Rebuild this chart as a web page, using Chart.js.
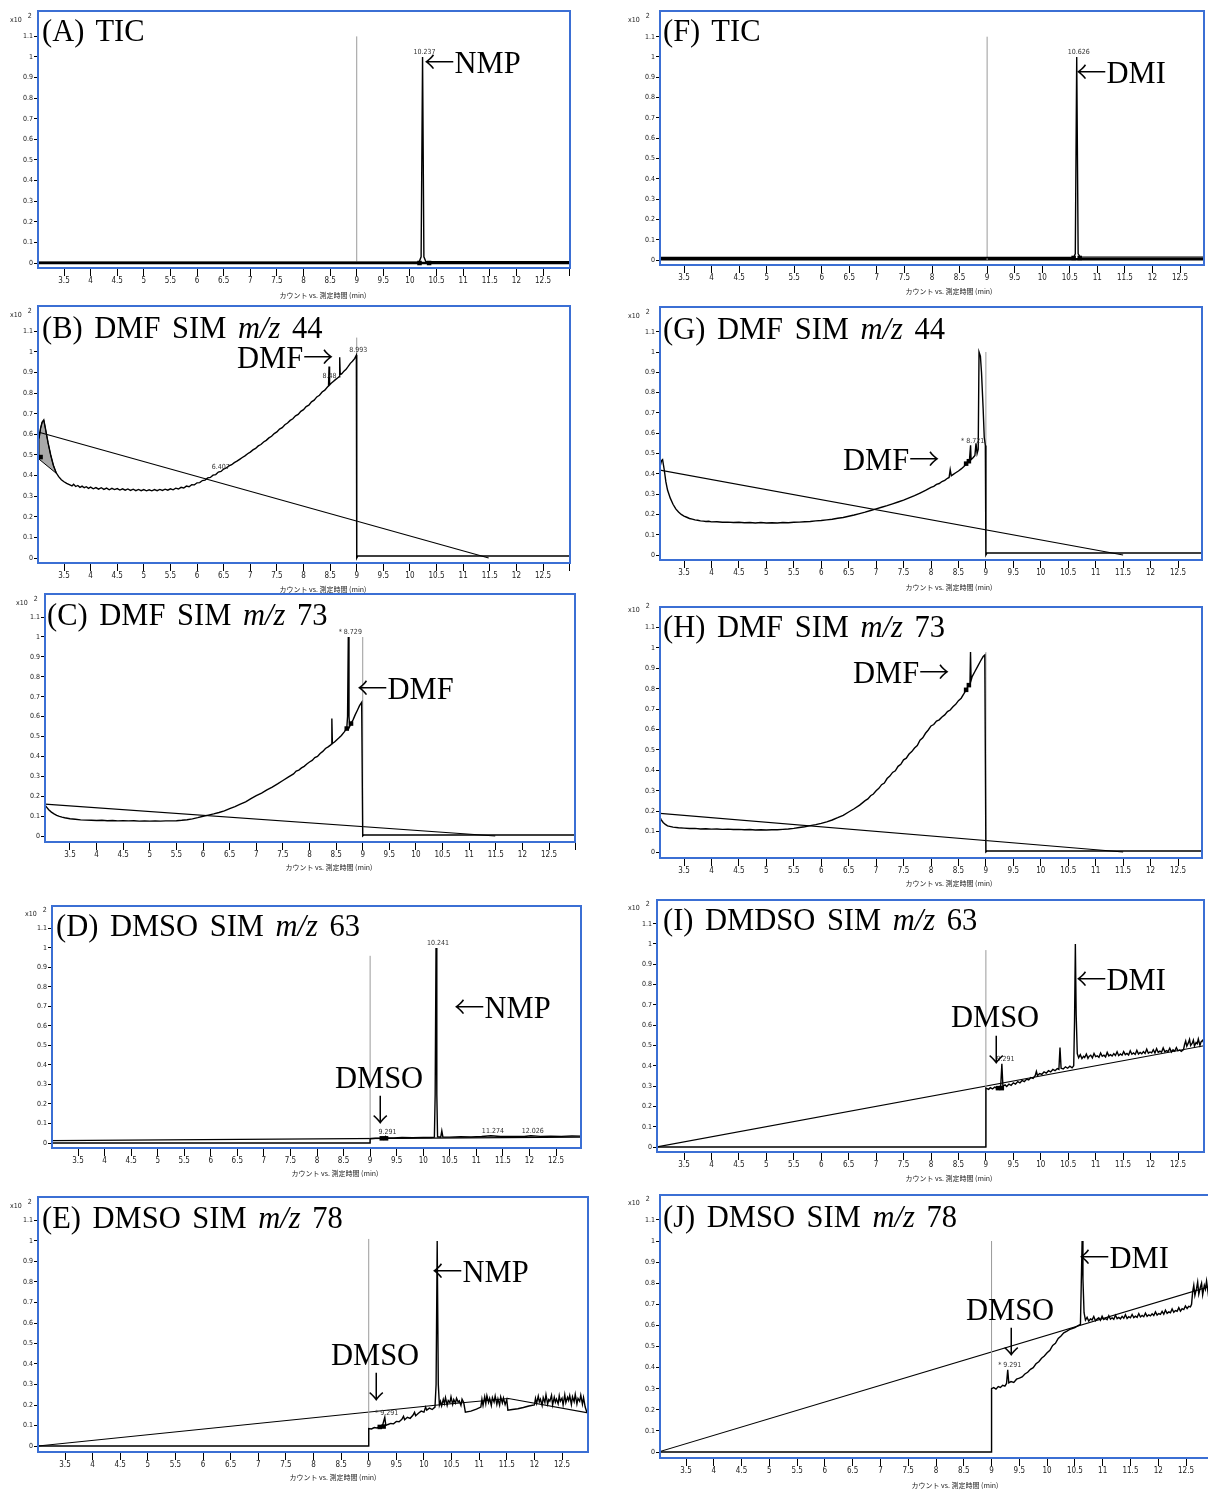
<!DOCTYPE html>
<html>
<head>
<meta charset="utf-8">
<script src="https://cdn.jsdelivr.net/npm/chart.js@4.4.1/dist/chart.umd.min.js"></script>
<style>
  html, body { margin: 0; padding: 0; background: #fff; }
  body { width: 1208px; height: 1490px; position: relative; overflow: hidden; }
  canvas { position: absolute; }
  .big { position: absolute; white-space: nowrap; font-family: 'Liberation Serif', 'DejaVu Serif', serif; font-size: 30.5px; word-spacing: 4px; line-height: 1; color: #000; }
  .ar { font-family: 'Noto Sans CJK JP', sans-serif; font-weight: 300; }
  .axt { position: absolute; white-space: nowrap; font-family: 'Noto Sans CJK JP', sans-serif; font-size: 7px; line-height: 1; color: #222; transform: translateX(-50%); }
  .mult { position: absolute; white-space: nowrap; font-family: 'Liberation Sans Narrow', 'DejaVu Sans Condensed', sans-serif; font-size: 7px; line-height: 1; color: #222; }
</style>
</head>
<body>
<script>
// ---- retention-time axis ticks (min) and intensity ticks (x10^2 counts) ----
const X_TICKS = [3.5, 4, 4.5, 5, 5.5, 6, 6.5, 7, 7.5, 8, 8.5, 9, 9.5, 10, 10.5, 11, 11.5, 12, 12.5, 13];
const Y_TICKS = [0, 0.1, 0.2, 0.3, 0.4, 0.5, 0.6, 0.7, 0.8, 0.9, 1.0, 1.1];

// ---- (A) TIC, NMP sample ----
const aTrace = [[3.0,0.004],[10.17,0.004],[10.21,0.03],[10.237,1.0],[10.262,0.03],[10.3,0.006],[13.0,0.006]];
const aBase = [[3.0,0.0],[13.0,0.0]];
const aMarks = [[10.18,0.0],[10.36,0.0]];
const aGate = [[9.0,0],[9.0,1.1]];
const aTags = [['10.237',10.237,1.0]];

// ---- (B) DMF SIM m/z 44, NMP sample ----
const bTrace = [[3.03,0.58],[3.06,0.63],[3.09,0.66],[3.12,0.67],[3.15,0.63],[3.2,0.56],[3.25,0.5],[3.3,0.45],[3.35,0.415],[3.4,0.395],[3.45,0.38],[3.5,0.37],[3.55,0.362],[3.6,0.356],[3.65,0.35],[3.68,0.358],[3.72,0.347],[3.76,0.352],[3.8,0.343],[3.84,0.349],[3.88,0.341],[3.92,0.346],[3.96,0.338],[4.0,0.344],[4.05,0.336],[4.1,0.342],[4.15,0.334],[4.2,0.341],[4.25,0.333],[4.3,0.339],[4.35,0.331],[4.4,0.338],[4.45,0.332],[4.5,0.337],[4.55,0.33],[4.6,0.336],[4.65,0.329],[4.7,0.335],[4.75,0.328],[4.8,0.334],[4.85,0.327],[4.9,0.333],[4.95,0.327],[5.0,0.332],[5.05,0.326],[5.1,0.331],[5.15,0.326],[5.2,0.332],[5.25,0.327],[5.3,0.333],[5.35,0.328],[5.4,0.334],[5.45,0.329],[5.5,0.336],[5.55,0.331],[5.6,0.339],[5.65,0.335],[5.7,0.343],[5.75,0.34],[5.8,0.349],[5.85,0.346],[5.9,0.356],[5.95,0.355],[6.0,0.365],[6.05,0.366],[6.1,0.376],[6.15,0.378],[6.2,0.389],[6.25,0.391],[6.3,0.402],[6.35,0.405],[6.4,0.417],[6.45,0.42],[6.5,0.432],[6.55,0.437],[6.6,0.447],[6.65,0.453],[6.7,0.463],[6.75,0.47],[6.8,0.479],[6.85,0.488],[6.9,0.496],[6.95,0.506],[7.0,0.514],[7.05,0.525],[7.1,0.532],[7.15,0.544],[7.2,0.551],[7.25,0.563],[7.3,0.571],[7.35,0.583],[7.4,0.591],[7.45,0.604],[7.5,0.612],[7.55,0.626],[7.6,0.633],[7.65,0.647],[7.7,0.655],[7.75,0.668],[7.8,0.676],[7.85,0.69],[7.9,0.697],[7.95,0.712],[8.0,0.72],[8.05,0.735],[8.1,0.742],[8.15,0.758],[8.2,0.766],[8.25,0.782],[8.3,0.79],[8.35,0.806],[8.4,0.815],[8.45,0.83],[8.47,0.835],[8.48,0.93],[8.49,0.84],[8.52,0.848],[8.56,0.857],[8.6,0.866],[8.64,0.874],[8.67,0.88],[8.68,0.975],[8.69,0.89],[8.72,0.895],[8.76,0.907],[8.8,0.916],[8.84,0.93],[8.88,0.945],[8.92,0.955],[8.96,0.968],[8.993,0.985],[9.0,0.0],[9.02,0.01],[13.0,0.01]];
const bBase = [[3.03,0.61],[11.48,0.0]];
const bArea = [[3.03,0.48],[3.03,0.58],[3.06,0.63],[3.09,0.66],[3.12,0.67],[3.15,0.63],[3.2,0.56],[3.25,0.5],[3.3,0.45],[3.36,0.41],[3.03,0.48]];
const bMarks = [[3.06,0.49]];
const bGate = [[9.0,0],[9.0,1.07]];
const bTags = [['8.993',8.993,0.985],['8.48',8.45,0.86],['6.407',6.407,0.42]];

// ---- (C) DMF SIM m/z 73, NMP sample ----
const cTrace = [[3.03,0.155],[3.06,0.145],[3.1,0.132],[3.15,0.12],[3.2,0.111],[3.25,0.104],[3.3,0.099],[3.35,0.095],[3.4,0.092],[3.5,0.087],[3.6,0.084],[3.7,0.081],[3.8,0.08],[3.9,0.079],[4.0,0.078],[4.1,0.079],[4.2,0.077],[4.3,0.078],[4.4,0.076],[4.5,0.077],[4.6,0.076],[4.7,0.077],[4.8,0.075],[4.9,0.076],[5.0,0.075],[5.1,0.076],[5.2,0.075],[5.3,0.076],[5.4,0.076],[5.5,0.077],[5.6,0.079],[5.7,0.082],[5.8,0.086],[5.9,0.092],[6.0,0.099],[6.1,0.105],[6.2,0.111],[6.3,0.118],[6.4,0.126],[6.5,0.138],[6.6,0.148],[6.7,0.16],[6.8,0.172],[6.9,0.188],[7.0,0.203],[7.1,0.216],[7.2,0.232],[7.3,0.246],[7.4,0.262],[7.5,0.279],[7.6,0.296],[7.7,0.312],[7.75,0.326],[7.8,0.331],[7.85,0.342],[7.9,0.35],[7.95,0.362],[8.0,0.372],[8.05,0.38],[8.1,0.394],[8.15,0.4],[8.2,0.415],[8.25,0.425],[8.3,0.44],[8.35,0.448],[8.4,0.458],[8.415,0.462],[8.42,0.59],[8.43,0.465],[8.47,0.472],[8.5,0.48],[8.55,0.492],[8.6,0.505],[8.65,0.522],[8.7,0.54],[8.715,0.6],[8.729,1.0],[8.742,0.6],[8.755,0.55],[8.78,0.565],[8.82,0.585],[8.86,0.61],[8.9,0.632],[8.94,0.655],[8.98,0.672],[9.0,0.0],[9.02,0.005],[13.0,0.005]];
const cBase = [[3.03,0.16],[11.49,0.0]];
const cMarks = [[8.7,0.54],[8.78,0.565]];
const cGate = [[9.0,0],[9.0,1.0]];
const cTags = [['* 8.729',8.729,1.0]];

// ---- (D) DMSO SIM m/z 63, NMP sample ----
const dTrace = [[3.0,0.0],[9.0,0.0],[9.0,0.022],[9.1,0.024],[9.2,0.025],[9.27,0.027],[9.291,0.034],[9.31,0.027],[9.45,0.026],[9.6,0.028],[9.8,0.027],[10.0,0.029],[10.15,0.028],[10.21,0.03],[10.225,0.25],[10.241,1.0],[10.256,0.25],[10.27,0.032],[10.33,0.03],[10.35,0.062],[10.37,0.031],[10.5,0.03],[10.7,0.032],[10.9,0.031],[11.1,0.033],[11.274,0.037],[11.45,0.033],[11.7,0.034],[11.9,0.033],[12.026,0.037],[12.2,0.034],[12.4,0.035],[12.6,0.034],[12.8,0.036],[13.0,0.035]];
const dBase = [[3.0,0.012],[13.0,0.03]];
const dMarks = [[9.22,0.024],[9.3,0.024]];
const dGate = [[9.0,0],[9.0,0.96]];
const dTags = [['10.241',10.241,1.0],['9.291',9.291,0.034],['11.274',11.274,0.037],['12.026',12.026,0.037]];

// ---- (E) DMSO SIM m/z 78, NMP sample ----
const eTrace = [[3.0,0.0],[9.0,0.0],[9.0,0.085],[9.05,0.083],[9.1,0.09],[9.15,0.088],[9.2,0.095],[9.25,0.1],[9.291,0.14],[9.31,0.1],[9.35,0.105],[9.4,0.11],[9.45,0.108],[9.5,0.12],[9.55,0.118],[9.6,0.13],[9.63,0.145],[9.65,0.128],[9.7,0.14],[9.75,0.135],[9.8,0.15],[9.83,0.165],[9.85,0.148],[9.9,0.16],[9.95,0.17],[10.0,0.165],[10.03,0.19],[10.05,0.175],[10.1,0.185],[10.15,0.178],[10.2,0.19],[10.22,0.3],[10.24,1.0],[10.26,0.3],[10.28,0.2],[10.3,0.218],[10.32,0.196],[10.35,0.228],[10.37,0.207],[10.39,0.236],[10.42,0.199],[10.44,0.222],[10.47,0.212],[10.49,0.24],[10.52,0.203],[10.54,0.226],[10.57,0.209],[10.59,0.233],[10.62,0.214],[10.64,0.22],[10.67,0.198],[10.69,0.228],[10.72,0.212],[10.75,0.165],[10.85,0.17],[10.95,0.18],[11.03,0.19],[11.05,0.228],[11.07,0.198],[11.1,0.24],[11.12,0.207],[11.14,0.245],[11.17,0.212],[11.19,0.232],[11.22,0.198],[11.24,0.236],[11.27,0.214],[11.29,0.244],[11.32,0.203],[11.34,0.23],[11.37,0.199],[11.39,0.239],[11.42,0.21],[11.44,0.234],[11.47,0.202],[11.5,0.226],[11.52,0.175],[11.6,0.178],[11.7,0.182],[11.8,0.188],[11.9,0.195],[12.0,0.2],[12.02,0.232],[12.04,0.208],[12.07,0.243],[12.09,0.215],[12.11,0.228],[12.14,0.198],[12.16,0.236],[12.19,0.212],[12.21,0.25],[12.24,0.204],[12.26,0.226],[12.28,0.219],[12.31,0.247],[12.33,0.2],[12.36,0.238],[12.38,0.214],[12.4,0.229],[12.43,0.206],[12.45,0.245],[12.47,0.218],[12.5,0.233],[12.52,0.2],[12.55,0.25],[12.57,0.212],[12.6,0.238],[12.62,0.222],[12.64,0.246],[12.67,0.203],[12.69,0.24],[12.72,0.216],[12.74,0.252],[12.77,0.205],[12.79,0.232],[12.82,0.218],[12.84,0.248],[12.87,0.204],[12.89,0.236],[12.92,0.19],[12.95,0.165],[13.0,0.16]];
const eBase = [[3.0,0.0],[10.25,0.2],[11.53,0.232],[13.0,0.16]];
const eMarks = [[9.2,0.093],[9.27,0.095]];
const eGate = [[9.0,0],[9.0,1.01]];
const eTags = [['* 9.291',9.291,0.14]];

// ---- (F) TIC, DMI sample ----
const fTrace = [[3.0,0.012],[10.57,0.012],[10.6,0.03],[10.626,1.0],[10.652,0.03],[10.69,0.014],[13.0,0.014]];
const fBase = [[3.0,0.004],[13.0,0.004]];
const fMarks = [[10.57,0.01],[10.68,0.01]];
const fGate = [[9.0,0],[9.0,1.1]];
const fTags = [['10.626',10.626,1.0]];

// ---- (G) DMF SIM m/z 44, DMI sample ----
const gTrace = [[3.03,0.37],[3.06,0.43],[3.09,0.465],[3.11,0.47],[3.14,0.42],[3.17,0.36],[3.2,0.32],[3.25,0.28],[3.3,0.25],[3.35,0.227],[3.4,0.212],[3.45,0.2],[3.5,0.192],[3.55,0.186],[3.6,0.18],[3.65,0.177],[3.7,0.173],[3.75,0.171],[3.8,0.168],[3.85,0.167],[3.9,0.165],[3.95,0.166],[4.0,0.163],[4.1,0.164],[4.2,0.161],[4.3,0.162],[4.4,0.16],[4.5,0.161],[4.6,0.159],[4.7,0.16],[4.8,0.158],[4.9,0.16],[5.0,0.158],[5.1,0.159],[5.2,0.158],[5.3,0.16],[5.4,0.159],[5.5,0.161],[5.6,0.162],[5.7,0.164],[5.8,0.165],[5.9,0.168],[6.0,0.17],[6.1,0.173],[6.2,0.176],[6.3,0.181],[6.4,0.185],[6.5,0.191],[6.6,0.197],[6.7,0.204],[6.8,0.211],[6.9,0.219],[7.0,0.227],[7.1,0.235],[7.2,0.243],[7.3,0.252],[7.4,0.261],[7.5,0.27],[7.6,0.281],[7.7,0.292],[7.8,0.305],[7.9,0.318],[8.0,0.333],[8.05,0.338],[8.1,0.348],[8.15,0.352],[8.2,0.362],[8.25,0.368],[8.3,0.378],[8.33,0.382],[8.35,0.42],[8.37,0.39],[8.4,0.396],[8.45,0.405],[8.5,0.414],[8.55,0.424],[8.6,0.436],[8.65,0.452],[8.7,0.465],[8.721,0.54],[8.73,0.47],[8.77,0.48],[8.8,0.49],[8.82,0.55],[8.84,0.5],[8.86,0.52],[8.875,1.0],[8.9,0.98],[8.92,0.9],[8.95,0.72],[8.97,0.58],[8.99,0.54],[9.0,0.0],[9.02,0.01],[13.0,0.01]];
const gBase = [[3.03,0.42],[11.5,0.0]];
const gMarks = [[8.64,0.45],[8.69,0.462]];
const gGate = [[9.0,0],[9.0,1.0]];
const gTags = [['* 8.721',8.721,0.54]];

// ---- (H) DMF SIM m/z 73, DMI sample ----
const hTrace = [[3.03,0.2],[3.05,0.18],[3.08,0.16],[3.12,0.145],[3.16,0.135],[3.2,0.128],[3.3,0.122],[3.4,0.119],[3.5,0.117],[3.6,0.115],[3.7,0.116],[3.8,0.113],[3.9,0.114],[4.0,0.112],[4.1,0.113],[4.2,0.111],[4.3,0.112],[4.4,0.11],[4.5,0.111],[4.6,0.109],[4.7,0.11],[4.8,0.108],[4.9,0.109],[5.0,0.108],[5.1,0.109],[5.2,0.109],[5.3,0.111],[5.4,0.113],[5.5,0.116],[5.6,0.12],[5.7,0.124],[5.8,0.129],[5.9,0.134],[6.0,0.14],[6.1,0.148],[6.2,0.157],[6.3,0.168],[6.4,0.18],[6.5,0.196],[6.6,0.212],[6.7,0.23],[6.8,0.252],[6.85,0.26],[6.9,0.276],[6.95,0.284],[7.0,0.3],[7.05,0.312],[7.1,0.33],[7.15,0.338],[7.2,0.36],[7.25,0.372],[7.3,0.39],[7.35,0.398],[7.4,0.42],[7.45,0.43],[7.5,0.452],[7.55,0.46],[7.6,0.48],[7.65,0.492],[7.7,0.51],[7.75,0.522],[7.8,0.548],[7.85,0.56],[7.9,0.582],[7.95,0.598],[8.0,0.618],[8.05,0.625],[8.1,0.642],[8.15,0.648],[8.2,0.662],[8.25,0.672],[8.3,0.688],[8.35,0.696],[8.4,0.712],[8.45,0.724],[8.5,0.742],[8.55,0.754],[8.6,0.776],[8.63,0.79],[8.66,0.805],[8.69,0.818],[8.71,0.825],[8.72,0.98],[8.73,0.84],[8.75,0.86],[8.8,0.885],[8.85,0.91],[8.9,0.935],[8.95,0.958],[8.98,0.965],[9.0,0.0],[9.02,0.005],[13.0,0.005]];
const hBase = [[3.03,0.19],[11.5,0.0]];
const hMarks = [[8.64,0.795],[8.69,0.818]];
const hGate = [[9.0,0],[9.0,0.98]];
const hTags = [];

// ---- (I) DMSO SIM m/z 63, DMI sample ----
const iTrace = [[3.0,0.0],[9.0,0.0],[9.0,0.29],[9.05,0.284],[9.08,0.292],[9.12,0.286],[9.16,0.295],[9.2,0.29],[9.24,0.297],[9.27,0.3],[9.291,0.41],[9.31,0.3],[9.35,0.306],[9.38,0.298],[9.42,0.31],[9.46,0.304],[9.5,0.316],[9.54,0.31],[9.58,0.322],[9.62,0.316],[9.66,0.328],[9.7,0.322],[9.74,0.334],[9.78,0.33],[9.82,0.342],[9.86,0.338],[9.9,0.352],[9.92,0.372],[9.94,0.352],[9.98,0.362],[10.02,0.358],[10.06,0.37],[10.1,0.364],[10.14,0.376],[10.18,0.37],[10.22,0.382],[10.26,0.376],[10.3,0.386],[10.33,0.382],[10.35,0.49],[10.37,0.388],[10.41,0.384],[10.45,0.395],[10.49,0.388],[10.53,0.398],[10.57,0.39],[10.6,0.4],[10.615,0.62],[10.63,1.0],[10.645,0.65],[10.665,0.46],[10.69,0.44],[10.72,0.455],[10.75,0.436],[10.78,0.447],[10.8,0.441],[10.83,0.458],[10.86,0.437],[10.88,0.446],[10.91,0.452],[10.94,0.439],[10.97,0.461],[11.0,0.445],[11.03,0.449],[11.06,0.442],[11.09,0.463],[11.12,0.447],[11.15,0.452],[11.18,0.444],[11.21,0.466],[11.24,0.449],[11.27,0.455],[11.3,0.448],[11.33,0.46],[11.36,0.451],[11.39,0.469],[11.42,0.45],[11.45,0.458],[11.48,0.452],[11.51,0.47],[11.54,0.455],[11.57,0.461],[11.6,0.453],[11.63,0.474],[11.66,0.457],[11.69,0.463],[11.72,0.456],[11.75,0.476],[11.78,0.458],[11.81,0.466],[11.84,0.459],[11.87,0.47],[11.9,0.461],[11.93,0.482],[11.96,0.462],[11.99,0.468],[12.02,0.464],[12.05,0.479],[12.08,0.463],[12.11,0.485],[12.14,0.466],[12.17,0.472],[12.2,0.467],[12.23,0.488],[12.26,0.469],[12.29,0.475],[12.32,0.47],[12.35,0.487],[12.38,0.468],[12.41,0.479],[12.44,0.472],[12.47,0.49],[12.5,0.474],[12.53,0.478],[12.56,0.471],[12.6,0.48],[12.62,0.505],[12.64,0.522],[12.66,0.497],[12.69,0.514],[12.71,0.53],[12.73,0.5],[12.76,0.511],[12.78,0.526],[12.8,0.498],[12.83,0.515],[12.85,0.509],[12.87,0.532],[12.9,0.5],[12.92,0.518],[12.95,0.526],[12.98,0.505]];
const iBase = [[3.0,0.0],[13.0,0.5]];
const iMarks = [[9.22,0.29],[9.29,0.29]];
const iGate = [[9.0,0],[9.0,0.97]];
const iTags = [['9.291',9.32,0.41]];

// ---- (J) DMSO SIM m/z 78, DMI sample ----
const jTrace = [[3.0,0.0],[9.0,0.0],[9.0,0.3],[9.04,0.305],[9.08,0.298],[9.12,0.31],[9.16,0.306],[9.2,0.316],[9.24,0.312],[9.27,0.325],[9.291,0.39],[9.31,0.328],[9.35,0.334],[9.4,0.33],[9.45,0.345],[9.5,0.35],[9.55,0.356],[9.6,0.37],[9.65,0.378],[9.7,0.392],[9.75,0.4],[9.8,0.418],[9.85,0.428],[9.9,0.444],[9.95,0.455],[10.0,0.47],[10.05,0.482],[10.1,0.505],[10.15,0.515],[10.2,0.538],[10.25,0.55],[10.3,0.565],[10.35,0.572],[10.4,0.58],[10.45,0.585],[10.5,0.59],[10.55,0.598],[10.6,0.605],[10.615,0.8],[10.63,1.0],[10.645,0.82],[10.665,0.66],[10.69,0.625],[10.72,0.638],[10.75,0.62],[10.78,0.631],[10.81,0.626],[10.84,0.642],[10.87,0.622],[10.9,0.63],[10.93,0.636],[10.96,0.624],[10.99,0.644],[11.02,0.628],[11.05,0.633],[11.08,0.627],[11.11,0.646],[11.14,0.63],[11.17,0.636],[11.2,0.629],[11.23,0.648],[11.26,0.632],[11.29,0.638],[11.32,0.631],[11.35,0.643],[11.38,0.634],[11.41,0.651],[11.44,0.633],[11.47,0.641],[11.5,0.636],[11.53,0.652],[11.56,0.637],[11.59,0.644],[11.62,0.638],[11.65,0.656],[11.68,0.64],[11.71,0.647],[11.74,0.641],[11.77,0.658],[11.8,0.643],[11.83,0.65],[11.86,0.645],[11.89,0.655],[11.92,0.647],[11.95,0.664],[11.98,0.649],[12.01,0.656],[12.04,0.652],[12.07,0.666],[12.1,0.653],[12.13,0.672],[12.16,0.657],[12.19,0.664],[12.22,0.66],[12.25,0.678],[12.28,0.662],[12.31,0.67],[12.34,0.667],[12.37,0.684],[12.4,0.668],[12.43,0.679],[12.46,0.675],[12.49,0.692],[12.52,0.68],[12.55,0.69],[12.58,0.688],[12.6,0.7],[12.62,0.76],[12.64,0.79],[12.66,0.742],[12.69,0.775],[12.71,0.805],[12.73,0.748],[12.76,0.782],[12.78,0.8],[12.8,0.745],[12.83,0.79],[12.85,0.772],[12.87,0.81],[12.9,0.75],[12.92,0.785],[12.95,0.8],[12.98,0.77]];
const jBase = [[3.0,0.0],[13.0,0.79]];
const jMarks = [];
const jGate = [[9.0,0],[9.0,1.0]];
const jTags = [['* 9.291',9.291,0.39]];

// ---- page layout: plot frame [left, top, right, bottom], zero line pixel, pixels per unit,
//      and the pixel columns of the 3.5 and 12.5 min ticks ----
const panels = [
  { box: [38, 11, 570, 268],     y0: 263,  ppu: 206, tx: [64, 543],   trace: aTrace, base: aBase, area: null, marks: aMarks, gate: aGate, tags: aTags, baseWidth: 2.5 },
  { box: [38, 306, 570, 563],    y0: 558,  ppu: 206, tx: [64, 543],   trace: bTrace, base: bBase, area: bArea, marks: bMarks, gate: bGate, tags: bTags },
  { box: [45, 594, 575, 842],    y0: 836,  ppu: 199, tx: [70, 549],   trace: cTrace, base: cBase, area: null, marks: cMarks, gate: cGate, tags: cTags },
  { box: [52, 906, 581, 1148],   y0: 1143, ppu: 195, tx: [78, 556],   trace: dTrace, base: dBase, area: null, marks: dMarks, gate: dGate, tags: dTags },
  { box: [38, 1197, 588, 1452],  y0: 1446, ppu: 205, tx: [65, 562],   trace: eTrace, base: eBase, area: null, marks: eMarks, gate: eGate, tags: eTags },
  { box: [660, 11, 1204, 265],   y0: 260,  ppu: 203, tx: [684, 1180], trace: fTrace, base: fBase, area: null, marks: fMarks, gate: fGate, tags: fTags, baseWidth: 2.5 },
  { box: [660, 307, 1202, 560],  y0: 555,  ppu: 203, tx: [684, 1178], trace: gTrace, base: gBase, area: null, marks: gMarks, gate: gGate, tags: gTags },
  { box: [660, 607, 1202, 858],  y0: 852,  ppu: 204, tx: [684, 1178], trace: hTrace, base: hBase, area: null, marks: hMarks, gate: hGate, tags: hTags },
  { box: [657, 900, 1204, 1152], y0: 1147, ppu: 203, tx: [684, 1178], trace: iTrace, base: iBase, area: null, marks: iMarks, gate: iGate, tags: iTags },
  { box: [660, 1195, 1210, 1458],y0: 1452, ppu: 211, tx: [686, 1186], trace: jTrace, base: jBase, area: null, marks: jMarks, gate: jGate, tags: jTags }
];

const NARROW = "'Liberation Sans Narrow', 'DejaVu Sans Condensed', sans-serif";
const FRAME_BLUE = '#3b6fd4';
const toXY = pairs => pairs.map(p => ({ x: p[0], y: p[1] }));

// frame + small retention-time annotations
const framePlugin = {
  id: 'frame',
  afterDatasetsDraw(chart, args, opts) {
    const { ctx, chartArea: a, scales: { x, y } } = chart;
    ctx.save();
    ctx.font = '7px ' + NARROW;
    ctx.fillStyle = '#333';
    ctx.textAlign = 'center';
    ctx.textBaseline = 'bottom';
    for (const [txt, tx, ty] of opts.tags || []) {
      ctx.fillText(txt, x.getPixelForValue(tx) + 2, y.getPixelForValue(ty) - 1);
    }
    ctx.strokeStyle = FRAME_BLUE;
    ctx.lineWidth = 2;
    ctx.strokeRect(a.left, a.top, a.right - a.left, a.bottom - a.top);
    ctx.restore();
  }
};

function buildPanel(p) {
  const [l, t, r, b] = p.box;
  const padL = 30, padT = 8, padR = 8, axisH = 24;
  const w = (r - l) + padL + padR;
  const h = (b - t) + padT + axisH;
  const cv = document.createElement('canvas');
  cv.width = w; cv.height = h;
  cv.style.left = (l - padL) + 'px';
  cv.style.top = (t - padT) + 'px';
  cv.style.width = w + 'px';
  cv.style.height = h + 'px';
  document.body.appendChild(cv);

  const yMax = (p.y0 - t) / p.ppu;
  const yMin = -(b - p.y0) / p.ppu;
  const ppm = (p.tx[1] - p.tx[0]) / 9;
  const xMin = 3.5 - (p.tx[0] - l) / ppm;
  const xMax = 12.5 + (r - p.tx[1]) / ppm;
  const xTicks = X_TICKS.filter(v => v >= xMin && v <= xMax + 0.02);

  const datasets = [];
  datasets.push({ data: toXY(p.marks), showLine: false, pointStyle: 'rect', pointRadius: 3.2,
    backgroundColor: '#000', borderColor: '#000', borderWidth: 0, order: 0 });
  datasets.push({ data: toXY(p.trace), borderColor: '#000', borderWidth: 1.4, pointRadius: 0, tension: 0, fill: false, order: 1 });
  datasets.push({ data: toXY(p.gate), borderColor: '#9a9a9a', borderWidth: 1, pointRadius: 0, fill: false, order: 2 });
  datasets.push({ data: toXY(p.base), borderColor: '#000', borderWidth: p.baseWidth || 1.1, pointRadius: 0, fill: false, order: 3 });
  if (p.area) {
    datasets.push({ data: toXY(p.area), borderColor: '#000', borderWidth: 1, backgroundColor: '#a9a9a9',
      pointRadius: 0, fill: 'shape', order: 4 });
  }

  new Chart(cv, {
    type: 'line',
    data: { datasets },
    options: {
      responsive: false,
      animation: false,
      devicePixelRatio: 1,
      layout: { padding: { left: 0, top: padT, right: padR, bottom: 0 } },
      plugins: { legend: { display: false }, tooltip: { enabled: false }, frame: { tags: p.tags } },
      scales: {
        x: {
          type: 'linear', min: xMin, max: xMax,
          afterBuildTicks: s => { s.ticks = xTicks.map(v => ({ value: v })); },
          afterFit: s => { s.height = axisH; },
          ticks: { font: { family: NARROW, size: 8 }, color: '#222', padding: 0, maxRotation: 0, autoSkip: false,
                   callback: v => (v === 13 ? '' : String(v)) },
          grid: { drawOnChartArea: false, drawTicks: true, tickLength: 8, color: '#000' },
          border: { display: true, color: '#000', width: 1 }
        },
        y: {
          type: 'linear', min: yMin, max: yMax,
          afterBuildTicks: s => { s.ticks = Y_TICKS.map(v => ({ value: v })); },
          afterFit: s => { s.width = padL; },
          ticks: { font: { family: NARROW, size: 7 }, color: '#222', padding: 1, autoSkip: false,
                   callback: v => String(Math.round(v * 10) / 10) },
          grid: { drawOnChartArea: false, drawTicks: true, tickLength: 4, color: '#000' },
          border: { display: true, color: '#000', width: 1 }
        }
      }
    },
    plugins: [framePlugin]
  });
}

panels.forEach(buildPanel);

// ---- panel headings and compound labels ----
const L = '<span class="ar">←</span>', R = '<span class="ar">→</span>', D = '<span class="ar">↓</span>';
const headings = [
  [42, 31, '(A) TIC'], [424, 60, L + 'NMP'],
  [42, 328, '(B) DMF SIM <i>m/z</i> 44'], [237, 355, 'DMF' + R],
  [47, 615, '(C) DMF SIM <i>m/z</i> 73'], [357, 686, L + 'DMF'],
  [56, 926, '(D) DMSO SIM <i>m/z</i> 63'], [454, 1005, L + 'NMP'], [335, 1078, 'DMSO'], [365, 1108, D],
  [42, 1218, '(E) DMSO SIM <i>m/z</i> 78'], [432, 1269, L + 'NMP'], [331, 1355, 'DMSO'], [361, 1385, D],
  [663, 31, '(F) TIC'], [1076, 70, L + 'DMI'],
  [663, 329, '(G) DMF SIM <i>m/z</i> 44'], [843, 457, 'DMF' + R],
  [663, 627, '(H) DMF SIM <i>m/z</i> 73'], [853, 670, 'DMF' + R],
  [663, 920, '(I) DMDSO SIM <i>m/z</i> 63'], [1076, 977, L + 'DMI'], [951, 1017, 'DMSO'], [981, 1048, D],
  [663, 1217, '(J) DMSO SIM <i>m/z</i> 78'], [1079, 1255, L + 'DMI'], [966, 1310, 'DMSO'], [996, 1340, D]
];
headings.forEach(([x, cy, html]) => {
  const d = document.createElement('div');
  d.className = 'big';
  d.innerHTML = html;
  d.style.left = x + 'px';
  d.style.top = (cy - 15) + 'px';
  document.body.appendChild(d);
});

// ---- axis titles and x10^2 multipliers ----
const axisTitles = [[323, 292], [323, 586], [329, 864], [335, 1170], [333, 1474], [949, 288], [949, 584], [949, 880], [949, 1175], [955, 1482]];
axisTitles.forEach(([cx, y]) => {
  const d = document.createElement('div');
  d.className = 'axt';
  d.textContent = 'カウント vs. 測定時間 (min)';
  d.style.left = cx + 'px';
  d.style.top = y + 'px';
  document.body.appendChild(d);
});
const multipliers = [[10, 17], [10, 312], [16, 600], [25, 911], [10, 1203], [628, 17], [628, 313], [628, 607], [628, 905], [628, 1200]];
multipliers.forEach(([x, y]) => {
  const d = document.createElement('div');
  d.className = 'mult';
  d.innerHTML = 'x10 <span style="position:relative;top:-4px;margin-left:4px">2</span>';
  d.style.left = x + 'px';
  d.style.top = y + 'px';
  document.body.appendChild(d);
});
</script>
</body>
</html>
